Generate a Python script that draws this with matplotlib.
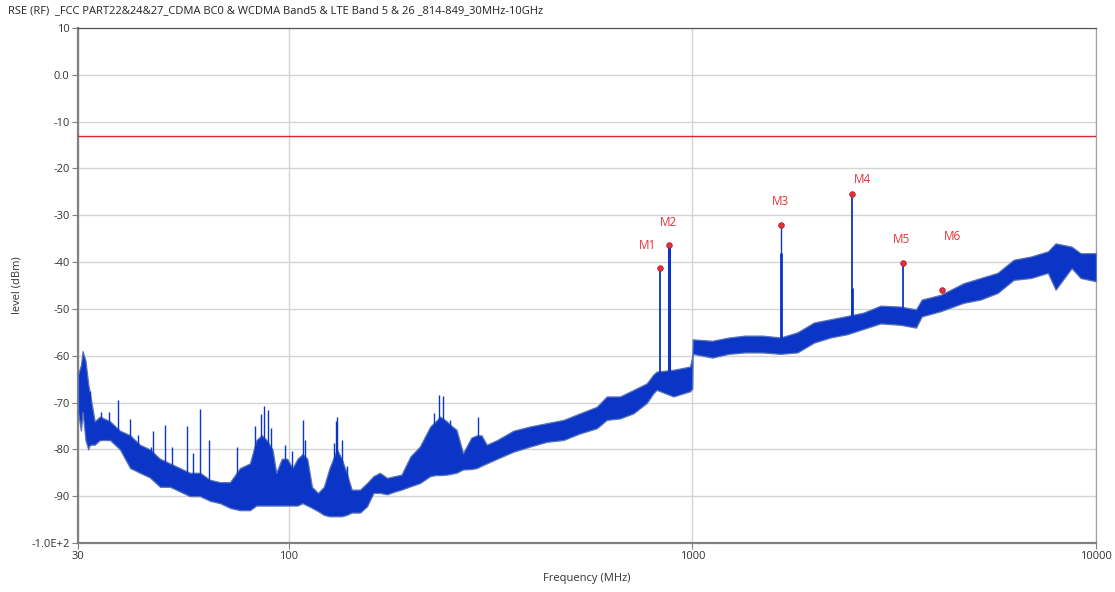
import numpy as np
import matplotlib
matplotlib.use("Agg")
import matplotlib.pyplot as plt
import matplotlib.ticker as ticker

# ---------------------------------------------------------------
# Data (frequency in MHz, level in dBm)
# ---------------------------------------------------------------
title = ("RSE (RF)  _FCC PART22&24&27_CDMA BC0 & WCDMA Band5 & "
         "LTE Band 5 & 26 _814-849_30MHz-10GHz")

# noise band envelope: frequency, lower edge, upper edge
band_freq = [30.0, 30.5, 30.8, 31.3, 31.8, 32.1, 33.0, 34.0, 36.0, 38.1,
             40.4, 42.7, 45.2, 47.9, 50.7, 53.7, 56.8, 60.2, 63.7, 67.5,
             71.4, 75.6, 80.0, 83.0, 85.6, 88.0, 91.0, 93.0, 96.0, 99.0,
             102.0, 105.0, 108.0, 111.0, 114.0, 118.0, 122.0, 126.0, 131.5, 135.0,
             139.0, 143.0, 150.0, 156.0, 162.0, 168.0, 175.0, 183.0, 190.0, 200.0,
             211.0, 224.0, 231.0, 237.0, 246.0, 253.0, 260.0, 270.0, 283.0, 292.0,
             300.0, 309.0, 328.0, 360.0, 396.0, 435.0, 479.0, 526.0, 579.0, 613.0,
             661.0, 714.0, 770.0, 800.0, 815.0, 897.0, 986.0, 999.0, 1001.0, 1120.0,
             1230.0, 1350.0, 1490.0, 1652.0, 1820.0, 2000.0, 2200.0, 2420.0, 2650.0, 2924.0,
             3277.0, 3580.0, 3700.0, 4118.0, 4700.0, 5174.0, 5700.0, 6250.0, 6900.0, 7600.0,
             7940.0, 8700.0, 9157.0, 10000.0]
band_lo = [-72, -76, -72, -78, -80, -79, -79, -78, -78, -80,
           -84, -85, -86, -88, -88, -89, -90, -90, -91, -91.5,
           -92.5, -93, -93, -92, -92, -92, -92, -92, -92, -92,
           -92, -92, -91.5, -92, -92.5, -93.2, -94, -94.3, -94.3, -94.3,
           -94, -93.5, -93.5, -92.2, -89.3, -89.3, -89.6, -89, -88.6, -87.9,
           -87.2, -85.7, -85.5, -85.5, -85.4, -85.2, -85, -84.3, -84.2, -84,
           -83.5, -83, -82, -80.5, -79.4, -78.4, -78, -76.6, -75.5, -73.7,
           -73.4, -72.3, -70.1, -68, -67.3, -68.7, -67.6, -67.0, -59.6, -60.4,
           -59.6, -59.3, -59.3, -59.6, -59.3, -57.2, -56.1, -55.4, -54.3, -53.1,
           -53.4, -54, -51.6, -50.5, -48.7, -48, -46.6, -43.8, -43.4, -42.3,
           -45.9, -41.3, -43.4, -44.1]
band_hi = [-64, -62, -59, -61, -66, -68, -74, -73, -74, -76,
           -77, -79, -80, -82, -83, -84, -85, -85, -86.5, -87,
           -87, -84, -83, -78, -77, -78, -80, -85, -82, -82,
           -84, -82, -81, -82, -88, -89.3, -88, -84, -80, -82,
           -85, -88.6, -88.6, -87.2, -85.7, -85, -86.1, -85.7, -85.4, -81.5,
           -79.4, -75.1, -74, -73, -74, -75, -75.8, -80.8, -77.5, -77,
           -77, -79, -78, -76, -75.1, -74.4, -73.7, -72.3, -70.9, -68.7,
           -68.7, -67.3, -65.9, -64, -63.4, -63, -62.3, -60.0, -56.5, -56.8,
           -56.1, -55.7, -55.7, -56.1, -55, -52.9, -52.2, -51.5, -50.8, -49.3,
           -49.5, -50.1, -48, -47, -44.5, -43.4, -42.3, -39.5, -38.8, -37.7,
           -36, -36.7, -38.1, -38.1]

# narrow single-bin spikes: frequency, base, top
spike_freq = [32.1, 34.2, 35.8, 37.7, 40.4, 42.2, 45.5, 45.9, 49.4, 51.2,
              55.9, 57.8, 60.2, 63.3, 74.3, 82.3, 85.0, 86.7, 88.5, 90.3,
              97.5, 102.0, 108.1, 109.5, 129.0, 130.5, 131.6, 135.4, 139.0, 228.7,
              235.8, 241.5, 250.5, 294.5,
              830.0, 875.0, 1660.0, 1660.0, 2490.0, 2490.0, 3320.0]
spike_base = [-79, -78, -78, -78, -82, -84, -85, -85, -86, -87,
              -88, -88, -88, -90, -90, -91, -91, -91, -91, -91,
              -91, -91, -90, -90, -92, -92, -92, -92, -92, -84,
              -84, -84, -84, -82,
              -66, -66, -58, -58, -54, -54, -51]
spike_top = [-67.6, -72, -72, -69.4, -73.5, -77, -79.4, -76, -74.7, -79.4,
             -75, -80.8, -71.4, -78, -79.4, -75, -72.5, -70.8, -71.5, -75.5,
             -79, -80.4, -73.8, -78, -78.7, -74, -73.1, -78, -83.6, -72.3,
             -68.4, -68.7, -73.7, -73,
             -41.3, -36.4, -38, -32.0, -45.6, -25.4, -40.1]
spike_lw = [1.0] * 34 + [1.3, 2.2, 2.0, 1.0, 2.0, 1.3, 1.3]

# markers
marker_names = ["M1", "M2", "M3", "M4", "M5", "M6"]
marker_freq = [830.0, 875.0, 1660.0, 2490.0, 3320.0, 4150.0]
marker_level = [-41.3, -36.4, -32.0, -25.4, -40.1, -46.0]

limit_level = -13.0

x_ticks = [30, 100, 1000, 10000]
x_labels = ["30", "100", "1000", "10000"]
y_ticks = [10, 0, -10, -20, -30, -40, -50, -60, -70, -80, -90, -100]
y_labels = ["10", "0.0", "-10", "-20", "-30", "-40", "-50", "-60",
            "-70", "-80", "-90", "-1.0E+2"]

# ---------------------------------------------------------------
# Styling
# ---------------------------------------------------------------
_BLUE = "#0A35C6"
_EDGE = "#5A74B8"
_RED = "#D42A2A"
_MRED = "#E8303A"
_TXT = "#333333"

# label offsets in pixels from each marker
label_dx = [-12, -1, -1, 10, -1, 11]
label_dy = [23, 23, 23, 14, 23, 54]

plt.rcParams["font.family"] = ["Open Sans", "DejaVu Sans"]

fig = plt.figure(figsize=(11.15, 5.92), dpi=100)
ax = fig.add_axes([78 / 1115, 49 / 592, 1018 / 1115, 515 / 592])

ax.set_xscale("log")
ax.set_xlim(30, 10000)
ax.set_ylim(-100, 10)

# grid
ax.set_xticks(x_ticks)
ax.set_xticklabels(x_labels)
ax.xaxis.set_minor_locator(ticker.NullLocator())
ax.set_yticks(y_ticks)
ax.set_yticklabels(y_labels)
ax.grid(True, color="#D4D4D4", linewidth=1.0)
ax.set_axisbelow(True)

# noise band
ax.fill_between(band_freq, band_lo, band_hi, color=_BLUE,
                linewidth=0.9, edgecolor=_EDGE, zorder=3)
ax.vlines(spike_freq, spike_base, spike_top, colors=_BLUE,
          linewidths=spike_lw, zorder=3)

# limit line
ax.axhline(limit_level, color=_RED, linewidth=1.0, zorder=4)

# markers
ax.scatter(marker_freq, marker_level, s=16, color=_MRED,
           edgecolor="#B02030", linewidth=0.6, zorder=5)
for name, f, lv, dx, dy in zip(marker_names, marker_freq, marker_level,
                                label_dx, label_dy):
    ax.annotate(name, (f, lv), xytext=(dx, dy), textcoords="offset pixels",
                ha="center", va="center", color=_MRED, fontsize=8.5, zorder=6)

# spines
for side in ("left", "bottom"):
    ax.spines[side].set_color("#808080")
    ax.spines[side].set_linewidth(1.6)
ax.spines["top"].set_color("#555555")
ax.spines["top"].set_linewidth(0.9)
ax.spines["right"].set_color("#A0A0A0")
ax.spines["right"].set_linewidth(0.9)

ax.tick_params(axis="both", direction="out", length=4, width=0.8,
               color="#808080", labelsize=8, labelcolor=_TXT, pad=2)

ax.set_xlabel("Frequency (MHz)", fontsize=8, color=_TXT, labelpad=8)
ax.set_ylabel("level (dBm)", fontsize=8, color=_TXT, labelpad=6)

fig.text(8 / 1115, 1 - 11 / 592, title, fontsize=8, color="#222222",
         ha="left", va="center")

fig.savefig("out.png", dpi=100)
